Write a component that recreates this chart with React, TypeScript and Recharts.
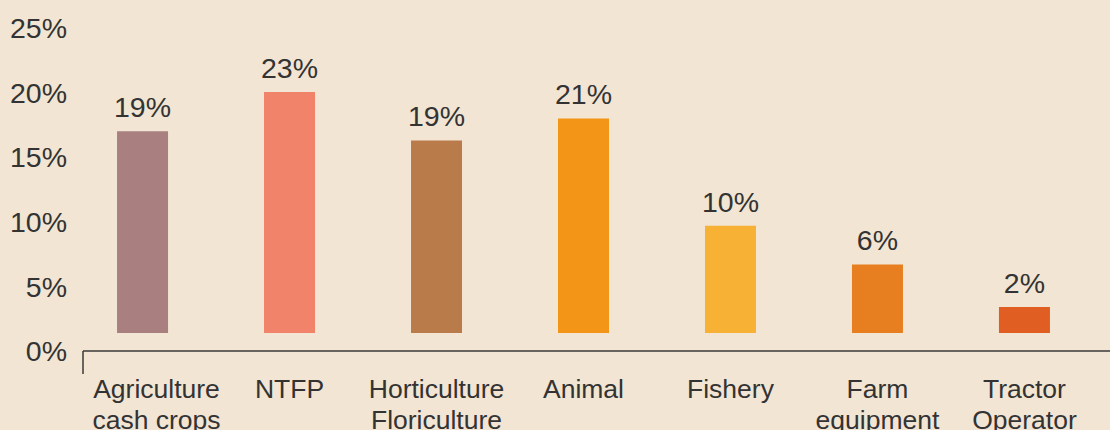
import { BarChart, Bar, Cell, XAxis, YAxis, LabelList } from 'recharts'

// categories, one entry per bar (label lines)
const categories: string[][] = [
  ['Agriculture', 'cash crops'],
  ['NTFP'],
  ['Horticulture', 'Floriculture'],
  ['Animal'],
  ['Fishery'],
  ['Farm', 'equipment'],
  ['Tractor', 'Operator'],
]
const shareLabels = ['19%', '23%', '19%', '21%', '10%', '6%', '2%']
// bars float: drawn from a common floor up to their top (in % of the y scale)
const barFloor = 1.4
const barTops = [17.0, 20.05, 16.3, 18.0, 9.7, 6.7, 3.4]
const barColors = ['#a97f7f', '#f0836a', '#b97b4a', '#f39516', '#f7b135', '#e77f21', '#e05e22']
const yTicks = [0, 5, 10, 15, 20, 25]

const data = categories.map((lines, i) => ({
  idx: i,
  lines,
  floor: barFloor,
  size: barTops[i] - barFloor,
  label: shareLabels[i],
}))

// x domain stretched so the axis line starts a little left of the first bar
const X_MIN = -0.405
const X_MAX = 6.582
const TEXT = '#333333'
const FONT = '"Liberation Sans", Arial, sans-serif'

function CategoryTick(props: any) {
  const { x, y, payload } = props
  const v = payload.value as number
  if (!Number.isInteger(v)) {
    return <line x1={x} x2={x} y1={y} y2={y + 23} stroke="#3a3a3a" strokeWidth={1.5} />
  }
  const lines = categories[v] || []
  // first label is nudged right so it stays clear of the axis start
  const cx = v === 0 ? x + 14 : x
  return (
    <text x={cx} y={y} textAnchor="middle" fill={TEXT} fontSize={26.5} fontFamily={FONT}>
      {lines.map((l, i) => (
        <tspan key={i} x={cx} dy={i === 0 ? 47 : 30.5}>
          {l}
        </tspan>
      ))}
    </text>
  )
}

export default function App() {
  return (
    <div style={{ position: 'absolute', left: 0, top: 0, width: 1110, height: 430, background: '#f2e5d4' }}>
      <BarChart
        width={1110}
        height={430}
        data={data}
        margin={{ top: 28, right: 0, bottom: 0, left: 0 }}
        style={{ fontFamily: FONT }}
      >
        <XAxis
          type="number"
          dataKey="idx"
          domain={[X_MIN, X_MAX]}
          ticks={[X_MIN, 0, 1, 2, 3, 4, 5, 6]}
          interval={0}
          height={79}
          tickSize={0}
          tickMargin={0}
          tickLine={false}
          axisLine={{ stroke: '#3a3a3a', strokeWidth: 1.5 }}
          tick={<CategoryTick />}
          allowDataOverflow
        />
        <YAxis
          domain={[0, 25]}
          ticks={yTicks}
          width={83}
          axisLine={false}
          tickLine={false}
          tickSize={0}
          tickMargin={16}
          tickFormatter={(v: number) => `${v}%`}
          tick={{ fill: TEXT, fontSize: 28.5, fontFamily: FONT }}
        />
        <Bar dataKey="floor" stackId="s" fill="transparent" barSize={51} isAnimationActive={false} />
        <Bar dataKey="size" stackId="s" barSize={51} isAnimationActive={false}>
          {data.map((_, i) => (
            <Cell key={i} fill={barColors[i]} />
          ))}
          <LabelList dataKey="label" position="top" offset={14} fill={TEXT} fontSize={28.5} fontFamily={FONT} />
        </Bar>
      </BarChart>
    </div>
  )
}
